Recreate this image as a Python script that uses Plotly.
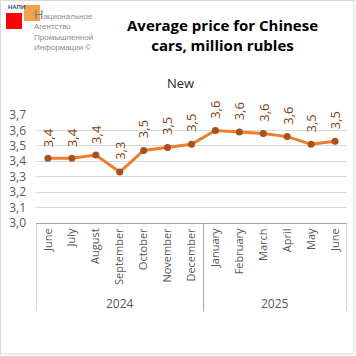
import plotly.graph_objects as go

# ---- data ----
months = ["June", "July", "August", "September", "October", "November", "December",
          "January", "February", "March", "April", "May", "June"]
years = ["2024", "2025"]
year_counts = [7, 6]
prices = [3.42, 3.42, 3.44, 3.33, 3.47, 3.49, 3.51, 3.60, 3.59, 3.58, 3.56, 3.51, 3.53]
yticks = [3.0, 3.1, 3.2, 3.3, 3.4, 3.5, 3.6, 3.7]

W, H = 356, 356
L, R, T, B = 36, 9, 115, 133
PW, PH = W - L - R, H - T - B


def px(xp):
    return (xp - L) / PW


def py(yp):
    return (H - B - yp) / PH


FONT = "Open Sans"
GRAY = "#595959"
LOGO_FONT = "Liberation Sans Narrow, Liberation Sans"
xs = list(range(len(months)))

fig = go.Figure()
fig.add_trace(go.Scatter(
    x=xs, y=prices, mode="lines+markers",
    line=dict(color="#ED7D31", width=3),
    marker=dict(color="#A9501B", size=7, line=dict(width=0)),
    hoverinfo="skip", cliponaxis=False, showlegend=False,
))

ann = []
for x, v in zip(xs, prices):
    ann.append(dict(x=x, y=v, xref="x", yref="y", text=f"{v:.1f}".replace(".", ","),
                    textangle=-90, showarrow=False, yshift=21,
                    xanchor="center", yanchor="middle",
                    font=dict(family=FONT, size=13, color="#843C0C")))

# year group labels and separators
shapes = []
start = 0
bounds = [-0.5]
for yr, n in zip(years, year_counts):
    center = start + (n - 1) / 2
    ann.append(dict(x=center, y=py(303), xref="x", yref="paper", text=yr,
                    xanchor="center", yanchor="middle",
                    showarrow=False, font=dict(family=FONT, size=12, color=GRAY)))
    start += n
    bounds.append(start - 0.5)
for b in bounds:
    shapes.append(dict(type="line", xref="x", yref="paper", x0=b, x1=b,
                       y0=0, y1=py(311), line=dict(color="#A6A6A6", width=1)))

# title and subtitle
ann.append(dict(x=px(222), y=py(35), xref="paper", yref="paper",
                xanchor="center", yanchor="middle",
                text="<b>Average price for Chinese<br>cars, million rubles</b>",
                showarrow=False, font=dict(family=FONT, size=15, color="#000000")))
ann.append(dict(x=px(180), y=py(83), xref="paper", yref="paper", text="New",
                xanchor="center", yanchor="middle",
                showarrow=False, font=dict(family=FONT, size=13, color="#262626")))

# logo
shapes.append(dict(type="rect", xref="paper", yref="paper", x0=px(6), x1=px(22),
                   y0=py(29), y1=py(13), fillcolor="#FF0000", line=dict(width=0)))
shapes.append(dict(type="rect", xref="paper", yref="paper", x0=px(24), x1=px(40),
                   y0=py(21), y1=py(5), fillcolor="#F5A04A", line=dict(width=0)))
ann.append(dict(x=px(6), y=py(7.5), xref="paper", yref="paper", text="<b>НАПИ</b>",
                xanchor="left", yanchor="middle", showarrow=False,
                font=dict(family=LOGO_FONT, size=6, color="#3A4A6A")))
logo_lines = ["<span style='font-size:13px;color:#7F7F7F'>Н</span>ациональное",
              "Агентство", "Промышленной", "Информации ©"]
ann.append(dict(x=px(32), y=py(54), xref="paper", yref="paper",
                text="<br>".join(logo_lines), align="left",
                xanchor="left", yanchor="bottom", showarrow=False,
                font=dict(family=LOGO_FONT, size=8, color="#8C8C8C")))

# outer border
shapes.append(dict(type="rect", xref="paper", yref="paper", x0=px(0.5), x1=px(354),
                   y0=py(354), y1=py(0.5), line=dict(color="#D9D9D9", width=1)))

fig.update_layout(
    width=W, height=H, margin=dict(l=L, r=R, t=T, b=B, autoexpand=False),
    paper_bgcolor="white", plot_bgcolor="white", separators=", ",
    annotations=ann, shapes=shapes, showlegend=False,
    xaxis=dict(range=[-0.5, len(months) - 0.5], tickmode="array", tickvals=xs,
               ticktext=months, tickangle=-90, showgrid=False, zeroline=False,
               showline=True, linecolor="#A6A6A6", linewidth=1, ticks="",
               tickfont=dict(family=FONT, size=11, color=GRAY), fixedrange=True),
    yaxis=dict(range=[3.0, 3.7], tickmode="array", tickvals=yticks, tickformat=".1f",
               showgrid=True, gridcolor="#D9D9D9", gridwidth=1, zeroline=False,
               showline=False, ticks="", ticklabelstandoff=9,
               tickfont=dict(family=FONT, size=12, color=GRAY), fixedrange=True),
)

fig.write_html("out.html", config={"displayModeBar": False},
               post_script="document.body.style.margin='0px';document.body.style.overflow='hidden';")
